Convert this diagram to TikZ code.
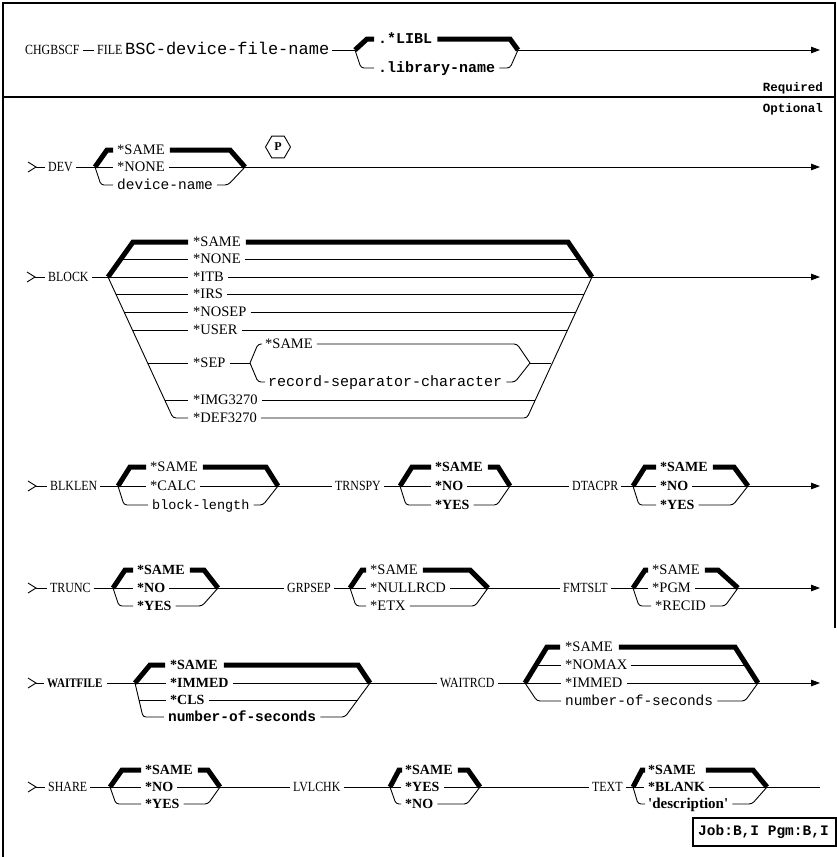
\documentclass[tikz,border=0pt]{standalone}
\usepackage{fontspec}
\setmainfont{Liberation Serif}
\newfontfamily\kwf{Liberation Serif}
\newfontfamily\kwn[FakeStretch=0.85]{Liberation Serif}
\newfontfamily\mnf{Liberation Mono}
\usetikzlibrary{arrows.meta,calc,shapes.geometric}
\tikzset{
 rl/.style={line width=0.9pt},
 rb/.style={line width=5pt},
 frame/.style={line width=1.2pt},
 lab/.style={inner sep=0pt, text height=9.5pt, text depth=0pt, anchor=west},
 kw/.style={lab, font=\kwn\fontsize{14}{14}\selectfont},
 op/.style={lab, font=\kwf\fontsize{14.5}{14.5}\selectfont},
 bo/.style={lab, font=\kwf\bfseries\fontsize{14}{14}\selectfont},
 va/.style={lab, font=\mnf\fontsize{14.5}{14.5}\selectfont},
 bv/.style={lab, font=\mnf\bfseries\fontsize{14.5}{14.5}\selectfont},
 arr/.style={rl, -{Triangle[length=9pt,width=6.5pt]}},
}
% #1 branch, #2 node, #3 join, #4 right dx
\newcommand\topbr[4]{%
 \draw[rb] (#1) -- ([xshift=12pt]#1 |- #2.west) -- ([xshift=-4pt]#2.west);
 \draw[rb] ([xshift=5pt]#2.east) -- ([xshift=-#4pt]#3 |- #2.east) -- (#3);}
\newcommand\midbr[3]{%
 \draw[rl] (#1) -- ([xshift=-4pt]#2.west);
 \draw[rl] ([xshift=4pt]#2.east) -- (#3);}
\newcommand\botbr[4]{%
 \draw[rl,rounded corners=3pt] (#1) -- ([xshift=6pt]#1 |- #2.west) -- ([xshift=-4pt]#2.west);
 \draw[rl,rounded corners=3pt] ([xshift=4pt]#2.east) -- ([xshift=-#4pt]#3 |- #2.east) -- (#3);}
\newcommand\startmk[2]{%
 \draw[rl] ($(#1)+(0,-5)$) -- ($(#1)+(8,0)$) -- ($(#1)+(0,5)$);
 \draw[rl] ($(#1)+(8,0)$) -- ([xshift=-3pt]#2.west);}
\begin{document}
\begin{tikzpicture}[x=1pt,y=-1pt]
\useasboundingbox (0,0) rectangle (837,857);
% frame
\draw[frame] (3,857) -- (3,3) -- (835,3) -- (835,628);
\draw[frame] (3,97) -- (835,97);

% ---- row 0 : required
\node[kw] (chg) at (25,50) {CHGBSCF};
\node[kw] (file) at (97,50) {FILE};
\node[va, font=\mnf\fontsize{17}{17}\selectfont] (bsc) at (125,50) {BSC-device-file-name};
\coordinate (b0) at (355,50); \coordinate (j0) at (518,50); \coordinate (e0) at (820,50);
\node[bv, font=\mnf\bfseries\fontsize{15}{15}\selectfont] (libl) at (378,39) {.*LIBL};
\node[bv, font=\mnf\bfseries\fontsize{15}{15}\selectfont] (libn) at (378,68) {.library-name};
\draw[rl] ([xshift=3pt]chg.east) -- ([xshift=-3pt]file.west);
\draw[rl] ([xshift=3pt]bsc.east) -- (b0);
\topbr{b0}{libl}{j0}{8}
\botbr{b0}{libn}{j0}{8}
\draw[arr] (j0) -- (e0);
\node[bv, font=\mnf\bfseries\fontsize{12.5}{12.5}\selectfont, anchor=east] (req) at (823,87) {Required};
\node[bv, font=\mnf\bfseries\fontsize{12.5}{12.5}\selectfont, anchor=east] (optl) at (823,108) {Optional};

% ---- DEV
\coordinate (s1) at (28,167);
\node[kw] (dev) at (48,167) {DEV};
\startmk{s1}{dev}
\coordinate (b1) at (95,167); \coordinate (j1) at (245,167); \coordinate (e1) at (820,167);
\node[op] (d1) at (117,150) {*SAME};
\node[op] (d2) at (117,167) {*NONE};
\node[va] (d3) at (117,185) {device-name};
\draw[rl] ([xshift=3pt]dev.east) -- (b1);
\topbr{b1}{d1}{j1}{15}
\midbr{b1}{d2}{j1}
\botbr{b1}{d3}{j1}{17}
\draw[arr] (j1) -- (e1);
\node[draw, rl, regular polygon, regular polygon sides=6, minimum size=25pt, inner sep=0pt,
      font=\kwf\bfseries\fontsize{12}{12}\selectfont] (pm) at (278,147) {P};

% ---- BLOCK
\coordinate (s2) at (27,277);
\node[kw] (block) at (48,277) {BLOCK};
\startmk{s2}{block}
\coordinate (b2) at (108,277); \coordinate (j2) at (592,277); \coordinate (e2) at (820,277);
\draw[rl] ([xshift=3pt]block.east) -- (b2);
\node[op] (o1) at (193,242) {*SAME};
\node[op] (o2) at (193,259) {*NONE};
\node[op] (o3) at (193,277) {*ITB};
\node[op] (o4) at (193,294) {*IRS};
\node[op] (o5) at (193,312) {*NOSEP};
\node[op] (o6) at (193,330) {*USER};
\node[op] (o7) at (193,363) {*SEP};
\node[op] (o8) at (193,400) {*IMG3270};
\node[op] (o9) at (193,418) {*DEF3270};
\node[op] (q1) at (265,344) {*SAME};
\node[va, font=\mnf\fontsize{15}{15}\selectfont] (q2) at (268,382) {record-separator-character};
\coordinate (sb) at (250,363); \coordinate (sj) at (530,363);
% left side
\draw[rb] (b2) -- (133,242) -- ([xshift=-5pt]o1.west);
\coordinate (l2) at (121,259); \coordinate (l4) at (116,294); \coordinate (l5) at (124,312);
\coordinate (l6) at (132,330); \coordinate (l7) at (148,363); \coordinate (l8) at (165,400);
\draw[rl,rounded corners=3pt] (b2) -- (173,418) -- ([xshift=-5pt]o9.west);
\draw[rl] (l2) -- ([xshift=-5pt]o2.west);
\draw[rl] (b2) -- ([xshift=-5pt]o3.west);
\draw[rl] (l4) -- ([xshift=-5pt]o4.west);
\draw[rl] (l5) -- ([xshift=-5pt]o5.west);
\draw[rl] (l6) -- ([xshift=-5pt]o6.west);
\draw[rl] (l7) -- ([xshift=-5pt]o7.west);
\draw[rl] (l8) -- ([xshift=-5pt]o8.west);
% right side
\draw[rb] ([xshift=5pt]o1.east) -- (568,242) -- (j2);
\coordinate (r2) at (580,259); \coordinate (r4) at (584,294); \coordinate (r5) at (576,312);
\coordinate (r6) at (568,330); \coordinate (r7) at (551,363); \coordinate (r8) at (535,400);
\draw[rl,rounded corners=3pt] ([xshift=4pt]o9.east) -- (527,418) -- (j2);
\draw[rl] ([xshift=4pt]o2.east) -- (r2);
\draw[rl] ([xshift=4pt]o3.east) -- (j2);
\draw[rl] ([xshift=4pt]o4.east) -- (r4);
\draw[rl] ([xshift=4pt]o5.east) -- (r5);
\draw[rl] ([xshift=4pt]o6.east) -- (r6);
\draw[rl] ([xshift=4pt]o8.east) -- (r8);
% *SEP sub-choice
\draw[rl] ([xshift=4pt]o7.east) -- (sb);
\draw[rl,rounded corners=3pt] (sb) -- (258,344) -- ([xshift=-3pt]q1.west);
\draw[rl,rounded corners=3pt] (sb) -- (258,382) -- ([xshift=-3pt]q2.west);
\draw[rl,rounded corners=3pt] ([xshift=4pt]q1.east) -- (517,344) -- (sj);
\draw[rl,rounded corners=3pt] ([xshift=4pt]q2.east) -- (515,382) -- (sj);
\draw[rl] (sj) -- (r7);
\draw[arr] (j2) -- (e2);

% ---- BLKLEN / TRNSPY / DTACPR
\coordinate (s3) at (28,486);
\node[kw] (blklen) at (50,486) {BLKLEN};
\startmk{s3}{blklen}
\coordinate (b3) at (118,486); \coordinate (j3) at (278,486);
\node[op] (k1) at (150,467) {*SAME};
\node[op] (k2) at (150,486) {*CALC};
\node[va, font=\mnf\fontsize{13.5}{13.5}\selectfont] (k3) at (152,505) {block-length};
\draw[rl] ([xshift=3pt]blklen.east) -- (b3);
\topbr{b3}{k1}{j3}{12}
\midbr{b3}{k2}{j3}
\botbr{b3}{k3}{j3}{15}
\node[kw] (trnspy) at (335,486) {TRNSPY};
\draw[rl] (j3) -- ([xshift=-3pt]trnspy.west);
\coordinate (b4) at (400,486); \coordinate (j4) at (510,486);
\node[bo] (t1) at (435,467) {*SAME};
\node[bo] (t2) at (435,486) {*NO};
\node[bo] (t3) at (435,505) {*YES};
\draw[rl] ([xshift=3pt]trnspy.east) -- (b4);
\topbr{b4}{t1}{j4}{12}
\midbr{b4}{t2}{j4}
\botbr{b4}{t3}{j4}{13}
\node[kw] (dtacpr) at (572,486) {DTACPR};
\draw[rl] (j4) -- ([xshift=-3pt]dtacpr.west);
\coordinate (b5) at (633,486); \coordinate (j5) at (748,486); \coordinate (e5) at (820,486);
\node[bo] (u1) at (660,467) {*SAME};
\node[bo] (u2) at (660,486) {*NO};
\node[bo] (u3) at (660,505) {*YES};
\draw[rl] ([xshift=3pt]dtacpr.east) -- (b5);
\topbr{b5}{u1}{j5}{14}
\midbr{b5}{u2}{j5}
\botbr{b5}{u3}{j5}{15}
\draw[arr] (j5) -- (e5);

% ---- TRUNC / GRPSEP / FMTSLT
\coordinate (s4) at (28,588);
\node[kw] (trunc) at (50,588) {TRUNC};
\startmk{s4}{trunc}
\coordinate (b6) at (113,588); \coordinate (j6) at (218,588);
\node[bo] (r1) at (137,570) {*SAME};
\node[bo] (r2) at (137,588) {*NO};
\node[bo] (r3) at (137,606) {*YES};
\draw[rl] ([xshift=3pt]trunc.east) -- (b6);
\topbr{b6}{r1}{j6}{14}
\midbr{b6}{r2}{j6}
\botbr{b6}{r3}{j6}{16}
\node[kw] (grpsep) at (287,588) {GRPSEP};
\draw[rl] (j6) -- ([xshift=-3pt]grpsep.west);
\coordinate (b7) at (350,588); \coordinate (j7) at (488,588);
\node[op] (g1) at (370,570) {*SAME};
\node[op] (g2) at (370,588) {*NULLRCD};
\node[op] (g3) at (370,606) {*ETX};
\draw[rl] ([xshift=3pt]grpsep.east) -- (b7);
\topbr{b7}{g1}{j7}{18}
\midbr{b7}{g2}{j7}
\botbr{b7}{g3}{j7}{13}
\node[kw] (fmtslt) at (563,588) {FMTSLT};
\draw[rl] (j7) -- ([xshift=-3pt]fmtslt.west);
\coordinate (b8) at (633,588); \coordinate (j8) at (738,588); \coordinate (e8) at (820,588);
\node[op] (f1) at (652,570) {*SAME};
\node[op] (f2) at (652,588) {*PGM};
\node[op] (f3) at (655,606) {*RECID};
\draw[rl] ([xshift=3pt]fmtslt.east) -- (b8);
\topbr{b8}{f1}{j8}{20}
\midbr{b8}{f2}{j8}
\botbr{b8}{f3}{j8}{13}
\draw[arr] (j8) -- (e8);

% ---- WAITFILE / WAITRCD
\coordinate (s5) at (28,683);
\node[bo, font=\kwn\bfseries\fontsize{13}{13}\selectfont] (waitfile) at (47,683) {WAITFILE};
\startmk{s5}{waitfile}
\coordinate (b9) at (135,683); \coordinate (j9) at (370,683);
\node[bo] (w1) at (170,665) {*SAME};
\node[bo] (w2) at (170,683) {*IMMED};
\node[bo] (w3) at (170,700) {*CLS};
\node[bv] (w4) at (168,717) {number-of-seconds};
\draw[rl] ([xshift=4pt]waitfile.east) -- (b9);
\draw[rb] (b9) -- (150,665) -- ([xshift=-5pt]w1.west);
\draw[rb] ([xshift=6pt]w1.east) -- (358,665) -- (j9);
\midbr{b9}{w2}{j9}
\coordinate (wl3) at (139,700); \coordinate (wr3) at (358,700);
\draw[rl,rounded corners=3pt] (b9) -- (143,717) -- ([xshift=-4pt]w4.west);
\draw[rl,rounded corners=3pt] ([xshift=4pt]w4.east) -- (345,717) -- (j9);
\draw[rl] (wl3) -- ([xshift=-4pt]w3.west);
\draw[rl] ([xshift=4pt]w3.east) -- (wr3);
\node[kw] (waitrcd) at (440,683) {WAITRCD};
\draw[rl] (j9) -- ([xshift=-3pt]waitrcd.west);
\coordinate (b10) at (525,683); \coordinate (j10) at (758,683); \coordinate (e10) at (820,683);
\node[op] (v1) at (565,647) {*SAME};
\node[op] (v2) at (565,665) {*NOMAX};
\node[op] (v3) at (565,683) {*IMMED};
\node[va] (v4) at (565,701) {number-of-seconds};
\draw[rl] ([xshift=3pt]waitrcd.east) -- (b10);
\draw[rb] (b10) -- (547,647) -- ([xshift=-5pt]v1.west);
\draw[rb] ([xshift=6pt]v1.east) -- (735,647) -- (j10);
\coordinate (vl2) at (537,665); \coordinate (vr2) at (746,665);
\draw[rl] (vl2) -- ([xshift=-4pt]v2.west);
\draw[rl] ([xshift=4pt]v2.east) -- (vr2);
\midbr{b10}{v3}{j10}
\draw[rl,rounded corners=3pt] (b10) -- (537,701) -- ([xshift=-4pt]v4.west);
\draw[rl,rounded corners=3pt] ([xshift=4pt]v4.east) -- (745,701) -- (j10);
\draw[arr] (j10) -- (e10);

% ---- SHARE / LVLCHK / TEXT
\coordinate (s6) at (28,787);
\node[kw] (share) at (48,787) {SHARE};
\startmk{s6}{share}
\coordinate (b11) at (110,787); \coordinate (j11) at (220,787);
\node[bo] (h1) at (145,770) {*SAME};
\node[bo] (h2) at (145,787) {*NO};
\node[bo] (h3) at (145,804) {*YES};
\draw[rl] ([xshift=3pt]share.east) -- (b11);
\topbr{b11}{h1}{j11}{12}
\midbr{b11}{h2}{j11}
\botbr{b11}{h3}{j11}{12}
\node[kw] (lvlchk) at (293,787) {LVLCHK};
\draw[rl] (j11) -- ([xshift=-3pt]lvlchk.west);
\coordinate (b12) at (390,787); \coordinate (j12) at (480,787);
\node[bo] (c1) at (405,770) {*SAME};
\node[bo] (c2) at (405,787) {*YES};
\node[bo] (c3) at (405,804) {*NO};
\draw[rl] ([xshift=3pt]lvlchk.east) -- (b12);
\draw[rb] (b12) -- (399,770) -- ([xshift=-3pt]c1.west);
\draw[rb] ([xshift=5pt]c1.east) -- (468,770) -- (j12);
\midbr{b12}{c2}{j12}
\botbr{b12}{c3}{j12}{13}
\node[kw] (textkw) at (592,787) {TEXT};
\draw[rl] (j12) -- ([xshift=-3pt]textkw.west);
\coordinate (b13) at (633,787); \coordinate (j13) at (767,787); \coordinate (e13) at (820,787);
\node[bo] (x1) at (648,770) {*SAME};
\node[bo] (x2) at (648,787) {*BLANK};
\node[bo, font=\kwf\bfseries\fontsize{15}{15}\selectfont] (x3) at (648,804) {'description'};
\draw[rl] ([xshift=3pt]textkw.east) -- (b13);
\draw[rb] (b13) -- (642,770) -- ([xshift=-3pt]x1.west);
\draw[rb] ([xshift=10pt]x1.east) -- (753,770) -- (j13);
\midbr{b13}{x2}{j13}
\draw[rl,rounded corners=3pt] (b13) -- (638,804) -- ([xshift=-3pt]x3.west);
\draw[rl,rounded corners=3pt] ([xshift=4pt]x3.east) -- (752,804) -- (j13);
\draw[rl] (j13) -- (e13);

% ---- job box
\node[bv] (job) at (698,831) {Job:B,I Pgm:B,I};
\draw[frame] (693,846) -- (693,818) -- (836,818) -- (836,846) -- cycle;
\end{tikzpicture}
\end{document}
